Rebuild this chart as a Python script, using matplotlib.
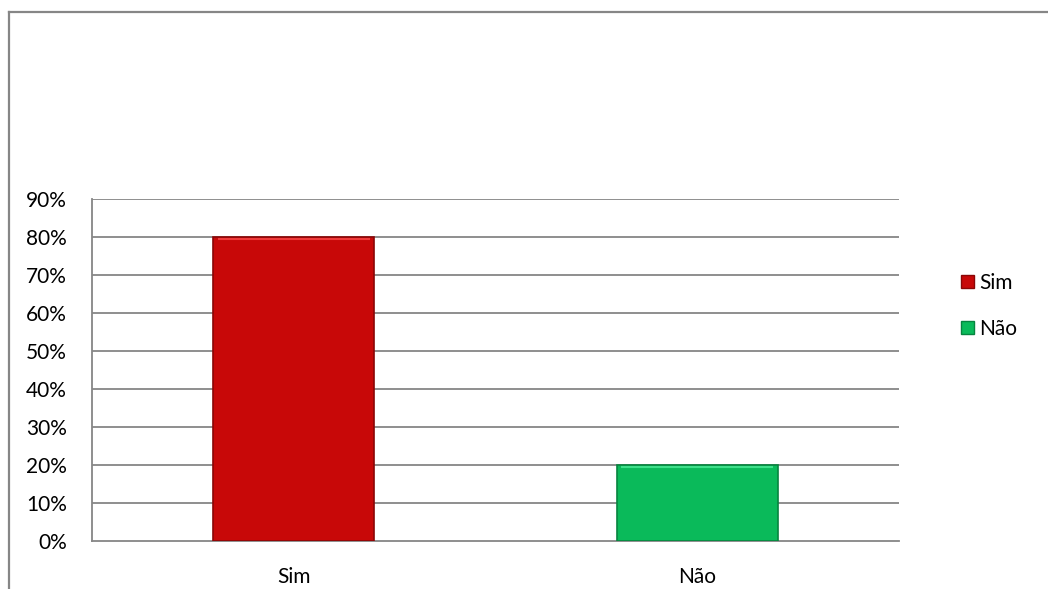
import matplotlib
matplotlib.use('Agg')

import numpy as np
import matplotlib.pyplot as plt
from matplotlib.lines import Line2D
from matplotlib.patches import Patch

categories = ['Sim', 'Não']
values = [80, 20]
colors = ['#C80808', '#0ABA5A']
edge_colors = ['#8A0606', '#07843F']
y_ticks = [0, 10, 20, 30, 40, 50, 60, 70, 80, 90]

W, H, DPI = 1048, 589, 100
GRID = '#868686'
FS = 15

plt.rcParams['font.family'] = ['Lato', 'DejaVu Sans']

fig = plt.figure(figsize=(W / DPI, H / DPI), dpi=DPI)

# outer chart border (top and left only visible in the crop)
fig.add_artist(Line2D([9 / W, 9 / W], [0, 1 - 12 / H], transform=fig.transFigure,
                      color=GRID, lw=1.6))
fig.add_artist(Line2D([9 / W, 1], [1 - 12 / H, 1 - 12 / H], transform=fig.transFigure,
                      color=GRID, lw=1.6))

left, right, top, bottom = 92, 899, 199, 541
ax = fig.add_axes([left / W, 1 - bottom / H, (right - left) / W, (bottom - top) / H])

x = np.arange(len(categories))
ax.set_xlim(-0.5, len(categories) - 0.5)
ax.set_ylim(0, 90)

for yt in y_ticks[1:]:
    ax.axhline(yt, color=GRID, lw=1.3, zorder=0)

bars = ax.bar(x, values, width=0.40, color=colors, edgecolor=edge_colors,
              linewidth=1.2, zorder=3)
# light top highlight to hint the bevel
for b, c in zip(bars, ['#F03A3A', '#3EE08A']):
    bx, bw, bh = b.get_x(), b.get_width(), b.get_height()
    ax.plot([bx + bw * 0.03, bx + bw * 0.97], [bh - 0.6, bh - 0.6], color=c,
            lw=1.5, zorder=4, solid_capstyle='butt')

ax.set_yticks(y_ticks)
ax.set_yticklabels([f'{v}%' for v in y_ticks], fontsize=FS)
ax.set_xticks(x)
ax.set_xticklabels(categories, fontsize=FS)
ax.tick_params(axis='y', length=0, pad=18)
ax.tick_params(axis='x', length=0, pad=19)

for s in ['top', 'right']:
    ax.spines[s].set_visible(False)
for s in ['left', 'bottom']:
    ax.spines[s].set_color(GRID)
    ax.spines[s].set_linewidth(1.3)

handles = [Patch(facecolor=c, edgecolor=e, label=l)
           for c, e, l in zip(colors, edge_colors, categories)]
fig.legend(handles=handles, loc='center left', bbox_to_anchor=(951 / W, 1 - 306 / H),
           frameon=False, fontsize=FS, handlelength=0.6, handleheight=0.6,
           handletextpad=0.25, labelspacing=1.25, borderpad=0)

fig.savefig('out.png', dpi=DPI, facecolor='white')
